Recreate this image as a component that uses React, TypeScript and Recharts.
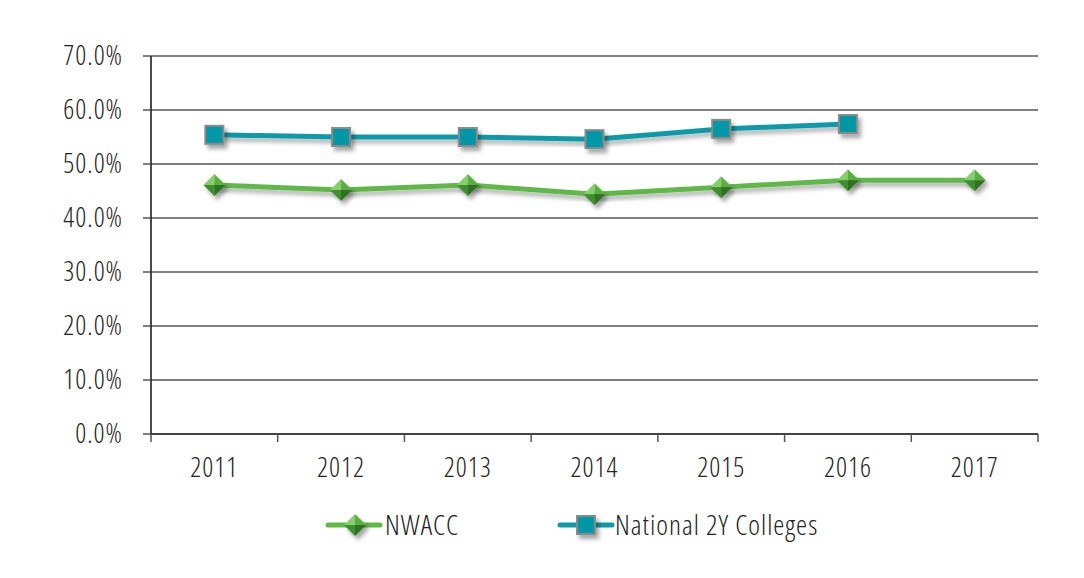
import { LineChart, Line, XAxis, YAxis, CartesianGrid, Legend, Customized } from 'recharts';

const years = ['2011', '2012', '2013', '2014', '2015', '2016', '2017'];
const nwacc = [46.1, 45.2, 46.1, 44.4, 45.7, 47.0, 47.0];
const national = [55.4, 55.0, 55.0, 54.6, 56.5, 57.4, null];
const yTicks = [0, 10, 20, 30, 40, 50, 60, 70];

const data = years.map((year, i) => ({ year, nwacc: nwacc[i], national: national[i] }));

const FONT = '"Open Sans", sans-serif';
const TEXT_STYLE = { fontFamily: FONT, fontWeight: 300, fontStretch: '75%', letterSpacing: 1 } as const;
const GREEN = '#5fb847';
const TEAL = '#0f9aa8';
const BAND = 887 / years.length;

function Diamond({ cx, cy, r = 11 }: { cx: number; cy: number; r?: number }) {
  return (
    <g filter="url(#markShadow)">
      <polygon points={`${cx},${cy - r} ${cx - r},${cy} ${cx},${cy}`} fill="#86cf6c" />
      <polygon points={`${cx},${cy - r} ${cx + r},${cy} ${cx},${cy}`} fill="#5aae43" />
      <polygon points={`${cx - r},${cy} ${cx},${cy + r} ${cx},${cy}`} fill="#3f8f2f" />
      <polygon points={`${cx + r},${cy} ${cx},${cy + r} ${cx},${cy}`} fill="#2e7222" />
    </g>
  );
}

function Square({ cx, cy, s = 18 }: { cx: number; cy: number; s?: number }) {
  return (
    <rect
      x={cx - s / 2}
      y={cy - s / 2}
      width={s}
      height={s}
      fill="#0097a6"
      stroke="#8a8a8a"
      strokeWidth={2}
      filter="url(#markShadow)"
    />
  );
}

const XTick = ({ x, y, payload, index }: any) => (
  <g>
    <line x1={x - BAND / 2} y1={y} x2={x - BAND / 2} y2={y + 8} stroke="#555" strokeWidth={1.5} />
    {index === years.length - 1 && (
      <line x1={x + BAND / 2} y1={y} x2={x + BAND / 2} y2={y + 8} stroke="#555" strokeWidth={1.5} />
    )}
    <text x={x} y={y + 43} textAnchor="middle" fontSize={27} fill="#222" style={TEXT_STYLE}>
      {payload.value}
    </text>
  </g>
);

const YTick = ({ x, y, payload }: any) => (
  <text x={x} y={y + 9} textAnchor="end" fontSize={27} fill="#222" style={TEXT_STYLE}>
    {`${payload.value.toFixed(1)}%`}
  </text>
);

// outer frame of the picture (left and top edges show, the rest runs off the page)
const Frame = () => (
  <g>
    <line x1={7} y1={6} x2={1084} y2={6} stroke="#222" strokeWidth={2} />
    <line x1={7} y1={6} x2={7} y2={578} stroke="#444" strokeWidth={2} />
  </g>
);

const LegendBox = () => (
  <div style={{ position: 'relative', width: 1084, height: 40, ...TEXT_STYLE, fontSize: 28, color: '#222' }}>
    <svg style={{ position: 'absolute', left: 324, top: 0 }} width={60} height={40}>
      <line x1={4} y1={21} x2={56} y2={21} stroke={GREEN} strokeWidth={5} strokeLinecap="round" />
      <Diamond cx={31} cy={21} />
    </svg>
    <span style={{ position: 'absolute', left: 385, top: 0, lineHeight: '40px' }}>NWACC</span>
    <svg style={{ position: 'absolute', left: 556, top: 0 }} width={60} height={40}>
      <line x1={4} y1={21} x2={56} y2={21} stroke={TEAL} strokeWidth={5} strokeLinecap="round" />
      <Square cx={30} cy={21} />
    </svg>
    <span style={{ position: 'absolute', left: 615, top: 0, lineHeight: '40px' }}>National 2Y Colleges</span>
  </div>
);

export default function App() {
  return (
    <div style={{ position: 'relative', width: 1084, height: 578, margin: -8, overflow: 'hidden', background: '#fff' }}>
      <svg width={0} height={0} style={{ position: 'absolute' }}>
        <defs>
          <filter id="lineShadow" x="-10%" y="-50%" width="120%" height="200%">
            <feDropShadow dx={2} dy={4} stdDeviation={2} floodColor="#000" floodOpacity={0.3} />
          </filter>
          <filter id="markShadow" x="-50%" y="-50%" width="200%" height="200%">
            <feDropShadow dx={3} dy={4} stdDeviation={2} floodColor="#000" floodOpacity={0.35} />
          </filter>
        </defs>
      </svg>
      <LineChart width={1084} height={578} data={data} margin={{ top: 56, right: 46, bottom: 44, left: 61 }}>
        <Customized component={Frame} />
        <CartesianGrid vertical={false} stroke="#555" strokeWidth={1.5} />
        <XAxis
          dataKey="year"
          scale="band"
          interval={0}
          height={60}
          tickLine={false}
          tickSize={0}
          tickMargin={0}
          axisLine={{ stroke: '#444', strokeWidth: 2 }}
          tick={<XTick />}
        />
        <YAxis
          width={90}
          domain={[0, 70]}
          ticks={yTicks}
          interval={0}
          tickSize={8}
          tickMargin={20}
          tickLine={{ stroke: '#555', strokeWidth: 1.5 }}
          axisLine={{ stroke: '#111', strokeWidth: 1.5 }}
          tick={<YTick />}
        />
        <YAxis
          yAxisId="r"
          orientation="right"
          width={0}
          domain={[0, 70]}
          tick={false}
          tickLine={false}
          axisLine={{ stroke: '#888', strokeWidth: 1.5 }}
        />
        <Legend
          verticalAlign="bottom"
          wrapperStyle={{ top: 504, left: 0, bottom: 'auto', width: 1084, height: 40 }}
          content={<LegendBox />}
        />
        <Line
          dataKey="nwacc"
          name="NWACC"
          stroke={GREEN}
          strokeWidth={5}
          filter="url(#lineShadow)"
          isAnimationActive={false}
          dot={(p: any) =>
            p.cy == null ? <g key={`n-${p.index}`} /> : <Diamond key={`n-${p.index}`} cx={p.cx} cy={p.cy} />
          }
          activeDot={false}
        />
        <Line
          dataKey="national"
          name="National 2Y Colleges"
          stroke={TEAL}
          strokeWidth={5}
          filter="url(#lineShadow)"
          isAnimationActive={false}
          dot={(p: any) =>
            p.cy == null ? <g key={`t-${p.index}`} /> : <Square key={`t-${p.index}`} cx={p.cx} cy={p.cy} />
          }
          activeDot={false}
        />
      </LineChart>
    </div>
  );
}
